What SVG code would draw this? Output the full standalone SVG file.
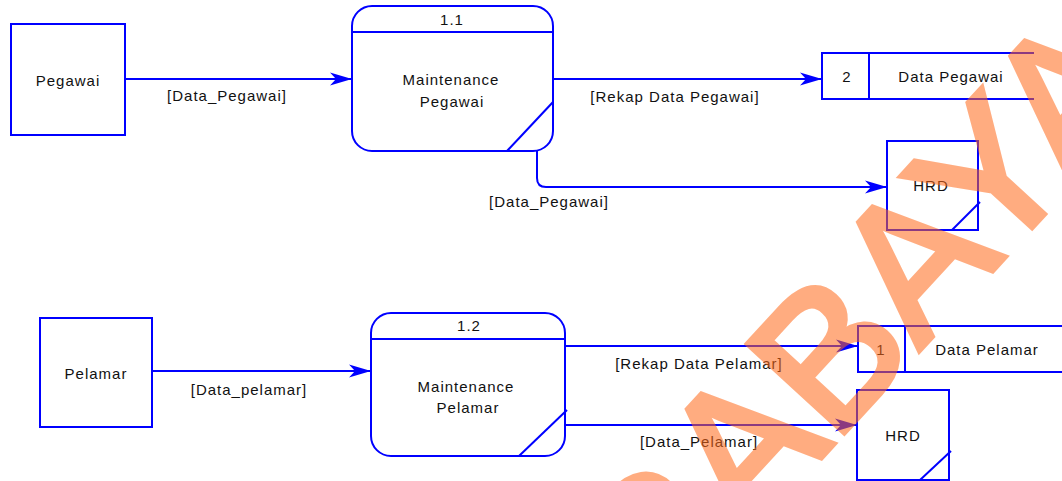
<svg xmlns="http://www.w3.org/2000/svg" width="1062" height="481" viewBox="0 0 1062 481">
<defs>
<marker id="arr" markerUnits="userSpaceOnUse" markerWidth="26" markerHeight="16" viewBox="-24 -8 26 16" refX="0" refY="0" orient="auto" overflow="visible">
<path d="M0,0 L-22,-6.5 L-16,0 L-22,6.5 Z" fill="#0000FF"/>
</marker>
</defs>
<style>
.s{fill:#fff;stroke:#0000FF;stroke-width:2}
.l{fill:none;stroke:#0000FF;stroke-width:2}
.c{fill:none;stroke:#0000FF;stroke-width:2;marker-end:url(#arr)}
text{font-family:"Liberation Sans",Arial,sans-serif;font-size:15px;letter-spacing:1px;fill:#111;text-anchor:middle}
.wm{font-family:"Liberation Sans",Arial,sans-serif;font-size:190px;letter-spacing:0;fill:#FF6A1A;stroke:#FF6A1A;stroke-width:6;stroke-linejoin:miter;text-anchor:start}
</style>
<rect width="1062" height="481" fill="#fff"/>

<g id="connectors">
<path class="c" d="M125,79 H352"/>
<text x="227" y="101">[Data_Pegawai]</text>
<path class="c" d="M553,79 H822"/>
<text x="675" y="102">[Rekap Data Pegawai]</text>
<path class="c" d="M537,151 V178 Q537,187 546,187 H887"/>
<text x="549" y="207">[Data_Pegawai]</text>
<path class="c" d="M152,371 H371"/>
<text x="249" y="395">[Data_pelamar]</text>
<path class="c" d="M565,346 H858"/>
<text x="699" y="369">[Rekap Data Pelamar]</text>
<path class="c" d="M565,425 H857"/>
<text x="699" y="447">[Data_Pelamar]</text>
</g>

<g id="pegawai">
<rect class="s" x="11" y="24" width="114" height="111"/>
<text x="68" y="86">Pegawai</text>
</g>

<g id="p11">
<rect class="s" x="352" y="6" width="201" height="145" rx="20" ry="20"/>
<line class="l" x1="352" y1="32" x2="553" y2="32"/>
<line class="l" x1="507" y1="151" x2="553" y2="102"/>
<text x="452" y="25">1.1</text>
<text x="451" y="85">Maintenance</text>
<text x="452" y="107">Pegawai</text>
</g>

<g id="ds2">
<path class="l" d="M1034,53 H822 V99 H1034 M869,53 V99"/>
<text x="847" y="82">2</text>
<text x="951" y="82">Data Pegawai</text>
</g>

<g id="hrd1">
<rect class="s" x="887" y="141" width="91" height="89"/>
<line class="l" x1="952" y1="230" x2="980" y2="202"/>
<text x="931" y="191">HRD</text>
</g>

<g id="pelamar">
<rect class="s" x="40" y="318" width="112" height="109"/>
<text x="96" y="379">Pelamar</text>
</g>

<g id="p12">
<rect class="s" x="371" y="313" width="194" height="143" rx="20" ry="20"/>
<line class="l" x1="371" y1="339" x2="565" y2="339"/>
<line class="l" x1="519" y1="456" x2="567" y2="410"/>
<text x="469" y="331">1.2</text>
<text x="466" y="392">Maintenance</text>
<text x="468" y="413">Pelamar</text>
</g>

<g id="ds1">
<path class="l" d="M1062,326 H858 V372 H1062 M905,326 V372"/>
<text x="881" y="355">1</text>
<text x="987" y="355">Data Pelamar</text>
</g>

<g id="hrd2">
<rect class="s" x="857" y="390" width="92" height="90"/>
<line class="l" x1="920" y1="480" x2="951" y2="451"/>
<text x="903" y="441">HRD</text>
</g>

<g id="watermark" opacity="0.55">
<text class="wm" transform="translate(477,833) rotate(-47.5)">SURABAYA</text>
</g>
</svg>
